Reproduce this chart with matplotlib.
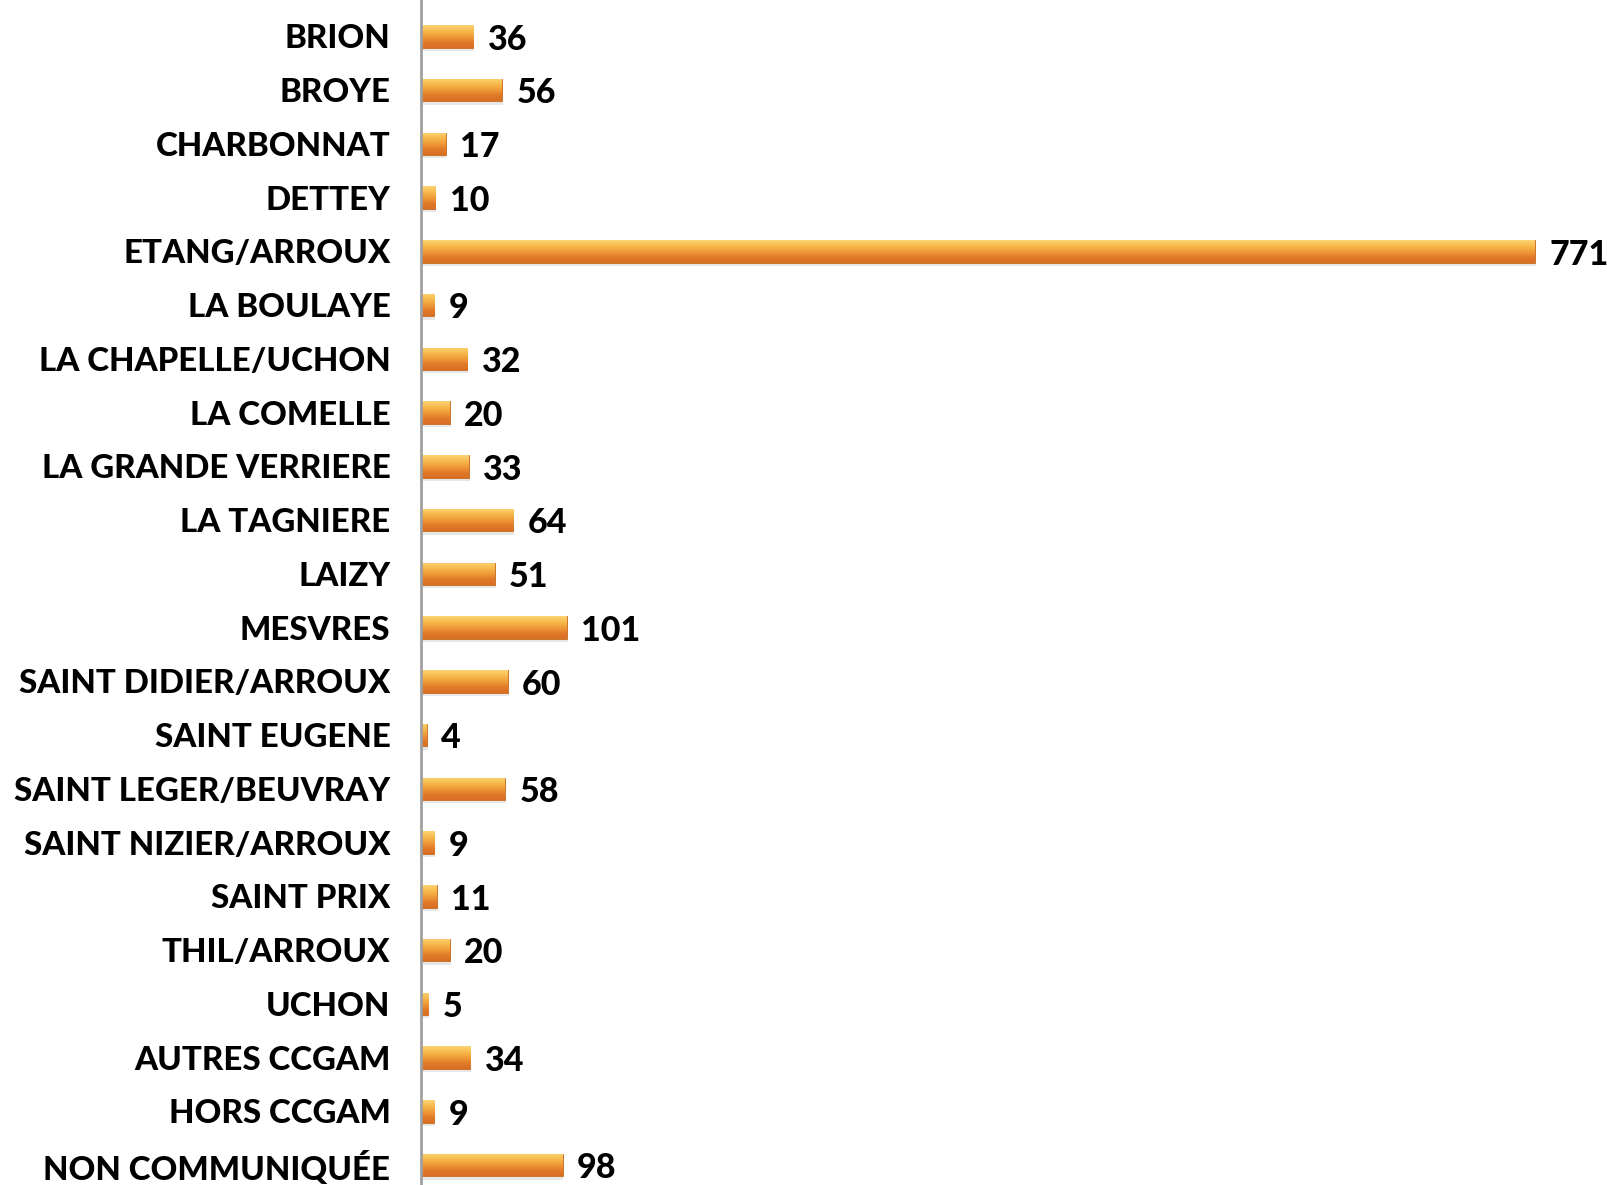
import matplotlib.pyplot as plt
from matplotlib.colors import LinearSegmentedColormap
import numpy as np

communes = ["BRION", "BROYE", "CHARBONNAT", "DETTEY", "ETANG/ARROUX", "LA BOULAYE",
            "LA CHAPELLE/UCHON", "LA COMELLE", "LA GRANDE VERRIERE", "LA TAGNIERE",
            "LAIZY", "MESVRES", "SAINT DIDIER/ARROUX", "SAINT EUGENE",
            "SAINT LEGER/BEUVRAY", "SAINT NIZIER/ARROUX", "SAINT PRIX", "THIL/ARROUX",
            "UCHON", "AUTRES CCGAM", "HORS CCGAM", "NON COMMUNIQUÉE"]
effectifs = [36, 56, 17, 10, 771, 9, 32, 20, 33, 64, 51, 101, 60, 4, 58, 9, 11, 20, 5, 34, 9, 98]

font = ['Lato', 'DejaVu Sans']
plt.rcParams['font.family'] = font

# vertical gradient for the "bevelled" orange bars
grad = LinearSegmentedColormap.from_list(
    "bev", ["#fcd474", "#f8ba4c", "#f09c38", "#e17b2a", "#d86e24"])
g = np.linspace(0, 1, 64).reshape(-1, 1)

fig = plt.figure(figsize=(16.07, 11.85), dpi=100)
ax = fig.add_axes([0.262, 0.0, 0.738, 1.0])

y = np.arange(len(communes))
h = 0.42
for yi, v in zip(y, effectifs):
    # soft shadow
    ax.barh(yi + 0.06, v, height=h, left=0.6, color="#d8d8d8", alpha=0.6, zorder=1)
    bar = ax.barh(yi, v, height=h, color="#e8892a", edgecolor="#c96a1c",
                  linewidth=0.6, zorder=2)[0]
    im = ax.imshow(g, cmap=grad, aspect="auto", extent=(0, v, yi + h / 2, yi - h / 2),
                   zorder=3, interpolation="bilinear")
    im.set_clip_path(bar)
    ax.text(v + 10, yi + 0.06, str(v), va="center", ha="left", fontsize=24.5,
            fontweight="black", color="black", zorder=4)

ax.set_xlim(0, 821)
ax.set_ylim(len(communes) - 1 + 0.37, -0.675)
ax.set_yticks(y)
ax.set_yticklabels(communes, fontsize=23.8, fontweight="black")
ax.tick_params(axis="y", length=0, pad=22)
ax.set_xticks([])
for s in ["top", "right", "bottom"]:
    ax.spines[s].set_visible(False)
ax.spines["left"].set_color("#a0a0a0")
ax.spines["left"].set_linewidth(2)
ax.spines["left"].set_zorder(5)

fig.savefig("out.png", dpi=100)
